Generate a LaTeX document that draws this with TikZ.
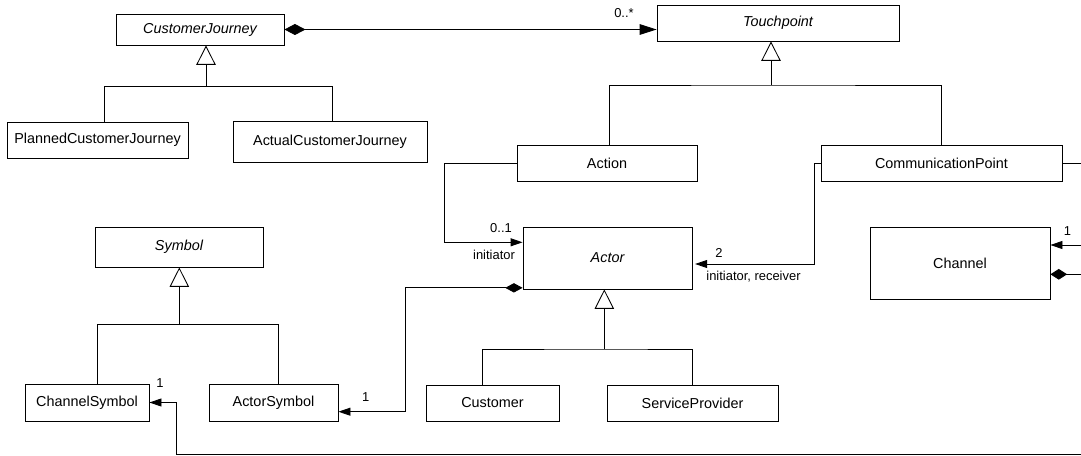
\documentclass[tikz,border=0pt]{standalone}
\usepackage{fontspec}
\setmainfont{Liberation Sans}
\usepackage{tikz}
\usetikzlibrary{arrows.meta,positioning}
\tikzstyle{umlclass} = [rectangle, draw, line width=0.65pt, inner sep=0pt, text centered, font=\fontsize{10.8}{12}\selectfont]
\tikzstyle{conn} = [line width=0.65pt]
\tikzstyle{assoc} = [conn, -{Triangle[length=9pt, width=6pt]}]
\tikzstyle{gen} = [conn, -{Triangle[open, length=14.5pt, width=14.5pt, fill=white]}]
\tikzstyle{mult} = [font=\fontsize{9.7}{11}\selectfont, inner sep=0pt]

\begin{document}
\begin{tikzpicture}[x=0.75pt, y=-0.75pt]
\useasboundingbox (0,0) rectangle (1081,456);

% Journeys and touchpoints
\node (cj) [umlclass, minimum width=126pt, minimum height=23.25pt] at (200,29.5) {\itshape CustomerJourney};
\node (tp) [umlclass, minimum width=181.5pt, minimum height=27pt] at (778,23) {\itshape Touchpoint};
\node (pcj) [umlclass, minimum width=135.75pt, minimum height=27pt] at (97.5,140) {PlannedCustomerJourney};
\node (acj) [umlclass, minimum width=145.5pt, minimum height=30.75pt] at (330,141.5) {ActualCustomerJourney};
\node (act) [umlclass, minimum width=135pt, minimum height=27pt] at (607,163) {Action};
\node (cp) [umlclass, minimum width=180.75pt, minimum height=27pt] at (941.5,163) {CommunicationPoint};

% Actors, symbols and channel
\node (sym) [umlclass, minimum width=126pt, minimum height=30pt] at (179,247) {\itshape Symbol};
\node (actor) [umlclass, minimum width=126.75pt, minimum height=46.5pt] at (607.5,258) {\itshape Actor};
\node (chan) [umlclass, minimum width=135pt, minimum height=54pt] at (960,263) {Channel};
\node (chsym) [umlclass, minimum width=93pt, minimum height=27.75pt] at (87,402.5) {ChannelSymbol};
\node (acsym) [umlclass, minimum width=96.75pt, minimum height=27.75pt] at (273.5,402.5) {ActorSymbol};
\node (cust) [umlclass, minimum width=99.75pt, minimum height=27pt] at (492.5,403) {Customer};
\node (sp) [umlclass, minimum width=128.25pt, minimum height=27pt] at (692.5,403) {ServiceProvider};

% Bend points and loose ends
\coordinate (cjg) at (206,86.7);
\coordinate (tpg) at (771,85);
\coordinate (symg) at (179.3,324.3);
\coordinate (actorg) at (604.3,349);
\coordinate (actbend) at (444.5,242.3);
\coordinate (cpbend) at (814.3,264);
\coordinate (asbend) at (405,411.7);
\coordinate (cpout) at (1081,163);
\coordinate (chin) at (1081,245);
\coordinate (chcomp) at (1081,274.3);
\coordinate (botright) at (1081,454);
\coordinate (botleft) at (176,454);

% Composition
\draw[conn, {Diamond[length=15.75pt, width=8.25pt]}-{Triangle[length=12.75pt, width=8pt]}] (cj.east) -- (cj.east -| tp.west);
\node[mult] at (624,13) {0..*};

% Generalizations
\draw[gen] (cjg) -- (cjg |- cj.south);
\draw[conn] ([xshift=4.9pt]pcj.north) |- (cjg) -| ([xshift=1.7pt]acj.north);
\draw[gen] (tpg) -- (tpg |- tp.south);
\draw[conn] ([xshift=1.7pt]act.north) |- (tpg) -| (cp.north);
\draw[gen] (symg) -- (symg |- sym.south);
\draw[conn] ([xshift=8pt]chsym.north) |- (symg) -| ([xshift=3.6pt]acsym.north);
\draw[gen] (actorg) -- (actorg |- actor.south);
\draw[conn] ([xshift=-7.3pt]cust.north) |- (actorg) -| (sp.north);

% Associations
\draw[assoc] (act.west) -| (actbend) -- (actbend -| actor.west);
\node[mult] at (501,228.5) {0..1};
\node[mult] at (494,255) {initiator};
\draw[assoc, shorten >=2pt] (cp.west) -| (cpbend) -- (cpbend -| actor.east);
\node[mult] at (719,253) {2};
\node[mult] at (753.5,277) {initiator, receiver};
\draw[conn, {Diamond[length=13pt, width=7pt]}-{Triangle[length=9pt, width=6pt]}] ([yshift=1.2pt]actor.south west) -| (asbend) -- (asbend -| acsym.east);
\node[mult] at (365.7,396.7) {1};
\draw[conn] (cp.east) -- (cpout);
\draw[assoc] (chin) -- (chin -| chan.east);
\node[mult] at (1067.5,231) {1};
\draw[conn, {Diamond[length=12.5pt, width=8pt]}-] (chan.east |- chcomp) -- (chcomp);
\draw[assoc] (botright) -- (botleft) |- (chsym.east);
\node[mult] at (160,383.3) {1};
\end{tikzpicture}
\end{document}
